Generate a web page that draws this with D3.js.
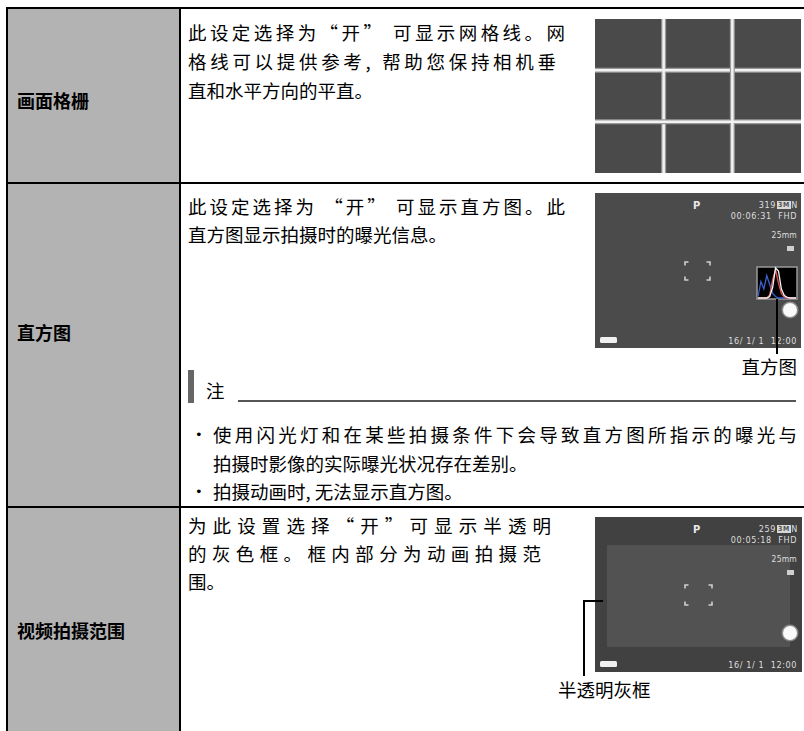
<!DOCTYPE html>
<html><head><meta charset="utf-8">
<script src="https://cdn.jsdelivr.net/npm/d3@7"></script>
<style>html,body{margin:0;padding:0;background:#fff;}svg{display:block;}</style>
</head><body>
<svg id="c" width="804" height="731"></svg>
<script>
// ---------- content ----------
const rowLabels = ["画面格栅", "直方图", "视频拍摄范围"];
const row1Lines = ["此设定选择为“开” 可显示网格线。网", "格线可以提供参考, 帮助您保持相机垂", "直和水平方向的平直。"];
const row2Lines = ["此设定选择为 “开” 可显示直方图。此", "直方图显示拍摄时的曝光信息。"];
const noteTitle = "注";
const noteLines = ["使用闪光灯和在某些拍摄条件下会导致直方图所指示的曝光与", "拍摄时影像的实际曝光状况存在差别。", "拍摄动画时, 无法显示直方图。"];
const noteBullets = [true, false, true];
const row3Lines = ["为此设置选择“开”可显示半透明", "的灰色框。框内部分为动画拍摄范", "围。"];
const captions = ["直方图", "半透明灰框"];
const screen1Top = ["319", "3M", "N", "00:06:31  FHD", "25mm", "16/ 1/ 1  12:00"];
const screen2Top = ["259", "3M", "N", "00:05:18  FHD", "25mm", "16/ 1/ 1  12:00"];
const histWhite = [0, 0, 0, 0, 0.05, 0.35, 1.0, 0.9, 0.3, 0.08, 0.02, 0, 0, 0];
const histRed   = [0, 0, 0, 0, 0.1, 0.6, 0.95, 0.5, 0.15, 0.03, 0, 0, 0, 0];
const histBlue  = [0.05, 0.55, 0.3, 0.75, 0.45, 0.15, 0.05, 0, 0, 0, 0, 0, 0, 0];

// ---------- layout ----------
const svg = d3.select("#c");
const W = 804, H = 731;
const rowY = [8, 183, 507, H];
const leftX = 7, divX = 180;
const CJK = "'Noto Sans CJK SC','Noto Sans CJK JP',sans-serif";
const FS = 18.5;

svg.append("rect").attr("x", leftX).attr("y", rowY[0]).attr("width", divX - leftX).attr("height", H - rowY[0]).attr("fill", "#b3b3b3");

const lines = svg.append("g").attr("stroke", "#000").attr("stroke-width", 2);
rowY.slice(0, 3).forEach(y => lines.append("line").attr("x1", leftX - 1).attr("x2", W).attr("y1", y).attr("y2", y));
[leftX, divX].forEach(x => lines.append("line").attr("x1", x).attr("x2", x).attr("y1", rowY[0]).attr("y2", H));

const labelY = [100, 332, 630];
svg.append("g").selectAll("text").data(rowLabels).join("text")
  .attr("x", 17).attr("y", (d, i) => labelY[i]).attr("dominant-baseline", "central")
  .attr("font-family", CJK).attr("font-size", 18).attr("font-weight", 700).attr("fill", "#000").text(d => d);

function drawLine(g, text, x0, y, x1) {
  const t = g.append("text").attr("x", x0).attr("y", y).attr("dominant-baseline", "central")
    .attr("font-family", CJK).attr("font-size", FS).attr("fill", "#000").text(text);
  if (x1 != null) t.attr("textLength", x1 - x0).attr("lengthAdjust", "spacing");
}
const body = svg.append("g");
const r1Y = [32, 61, 90], r1End = [565, 556, null];
row1Lines.forEach((t, i) => drawLine(body, t, 188, r1Y[i], r1End[i]));
const r2Y = [206, 234], r2End = [565, null];
row2Lines.forEach((t, i) => drawLine(body, t, 188, r2Y[i], r2End[i]));
const r3Y = [525, 553, 581], r3End = [551, 541, null];
row3Lines.forEach((t, i) => drawLine(body, t, 188, r3Y[i], r3End[i]));

// note block
svg.append("rect").attr("x", 188).attr("y", 370).attr("width", 6).attr("height", 33).attr("fill", "#666");
svg.append("text").attr("x", 206).attr("y", 390).attr("dominant-baseline", "central")
  .attr("font-family", CJK).attr("font-size", FS).text(noteTitle);
svg.append("line").attr("x1", 238).attr("x2", 796).attr("y1", 401).attr("y2", 401).attr("stroke", "#555").attr("stroke-width", 2);
const nY = [434, 463, 491], nEnd = [797, null, null];
noteLines.forEach((t, i) => {
  if (noteBullets[i]) svg.append("text").attr("x", 195).attr("y", nY[i]).attr("dominant-baseline", "central")
    .attr("font-family", "'DejaVu Sans',sans-serif").attr("font-size", 13).text("•");
  drawLine(body, t, 213, nY[i], nEnd[i]);
});

// ---------- grid picture ----------
const gx = d3.scaleLinear().domain([0, 3]).range([595, 801]);
const gy = d3.scaleLinear().domain([0, 3]).range([19, 173]);
const grid = svg.append("g");
grid.append("rect").attr("x", gx(0)).attr("y", gy(0)).attr("width", gx(3) - gx(0)).attr("height", gy(3) - gy(0)).attr("fill", "#4a4a4a");
[1, 2].forEach(k => {
  [["#9a9a9a", 5], ["#f2f2f2", 2.5]].forEach(([c, w]) => {
    grid.append("line").attr("x1", gx(k)).attr("x2", gx(k)).attr("y1", gy(0)).attr("y2", gy(3)).attr("stroke", c).attr("stroke-width", w);
    grid.append("line").attr("x1", gx(0)).attr("x2", gx(3)).attr("y1", gy(k)).attr("y2", gy(k)).attr("stroke", c).attr("stroke-width", w);
  });
});

// ---------- camera screens ----------
const MONO = "'DejaVu Sans Condensed','DejaVu Sans',sans-serif";
function screen(x0, y0, x1, y1, bg, readout) {
  const g = svg.append("g");
  g.append("rect").attr("x", x0).attr("y", y0).attr("width", x1 - x0).attr("height", y1 - y0).attr("fill", bg);
  const R = 797;
  const t = (x, y, s, anchor, size, weight, fill, ls) => g.append("text").attr("x", x).attr("y", y)
    .attr("dominant-baseline", "central").attr("text-anchor", anchor || "start")
    .attr("font-family", MONO).attr("font-size", size || 9).attr("font-weight", weight || 400)
    .attr("letter-spacing", ls || 0.6).attr("fill", fill || "#dedede").style("white-space", "pre").text(s);
  t(697, y0 + 12, "P", "middle", 11, 700, "#e8e8e8", 0);
  t(R + 1, y0 + 12, readout[2], "end");
  g.append("rect").attr("x", 777).attr("y", y0 + 8).attr("width", 14).attr("height", 8).attr("fill", "#d8d8d8");
  t(784, y0 + 12, readout[1], "middle", 7, 700, "#555", 0);
  t(776, y0 + 12, readout[0], "end");
  t(R, y0 + 23, readout[3], "end");
  t(R, y0 + 42, readout[4], "end", 8.5, 400, "#dedede", 0.2);
  g.append("rect").attr("x", 787).attr("y", y0 + 53).attr("width", 7).attr("height", 5).attr("fill", "#cfcfcf");
  t(R, y1 - 7, readout[5], "end");
  g.append("rect").attr("x", 600).attr("y", y1 - 11).attr("width", 17).attr("height", 6).attr("rx", 1.5).attr("fill", "#f0f0f0");
  return g;
}
function brackets(g, x0, y0, x1, y1) {
  const a = 3.5;
  const p = [[x0, y0, 1, 1], [x1, y0, -1, 1], [x0, y1, 1, -1], [x1, y1, -1, -1]];
  p.forEach(([x, y, sx, sy]) => g.append("path")
    .attr("d", `M${x + sx * a},${y}H${x}V${y + sy * a}`).attr("fill", "none").attr("stroke", "#d0d0d0").attr("stroke-width", 1.6));
}
function shutter(g, cx, cy) {
  g.append("circle").attr("cx", cx).attr("cy", cy).attr("r", 8.5).attr("fill", "#8a8a8a");
  g.append("circle").attr("cx", cx).attr("cy", cy).attr("r", 7).attr("fill", "#fafafa");
}

const s1 = screen(595, 193, 801, 348, "#4b4b4b", screen1Top);
brackets(s1, 685, 262, 710, 280);
shutter(s1, 790, 310);
const hx = d3.scaleLinear().domain([0, histWhite.length - 1]).range([758, 796]);
const hy = d3.scaleLinear().domain([0, 1]).range([298, 268]);
s1.append("rect").attr("x", 757).attr("y", 267).attr("width", 40).attr("height", 32).attr("fill", "#000").attr("stroke", "#999").attr("stroke-width", 1.5);
const hl = d3.line().x((d, i) => hx(i)).y(d => hy(d));
[[histBlue, "#3a5fd0"], [histRed, "#e05050"], [histWhite, "#f4f4f4"]].forEach(([arr, c]) =>
  s1.append("path").attr("d", hl(arr)).attr("fill", "none").attr("stroke", c).attr("stroke-width", 1.3));
svg.append("line").attr("x1", 777).attr("x2", 777).attr("y1", 299).attr("y2", 354).attr("stroke", "#000").attr("stroke-width", 2);
svg.append("text").attr("x", 797).attr("y", 366).attr("dominant-baseline", "central").attr("text-anchor", "end")
  .attr("font-family", CJK).attr("font-size", FS).text(captions[0]);

const s2 = screen(595, 517, 802, 672, "#414141", screen2Top);
s2.insert("rect", "text").attr("x", 607).attr("y", 545).attr("width", 183).attr("height", 102).attr("fill", "#525252");
brackets(s2, 685, 585, 712, 605);
shutter(s2, 790, 633);
svg.append("path").attr("d", "M584,676V601H603").attr("fill", "none").attr("stroke", "#000").attr("stroke-width", 2);
svg.append("text").attr("x", 558).attr("y", 689).attr("dominant-baseline", "central")
  .attr("font-family", CJK).attr("font-size", FS).text(captions[1]);
</script>
</body></html>
